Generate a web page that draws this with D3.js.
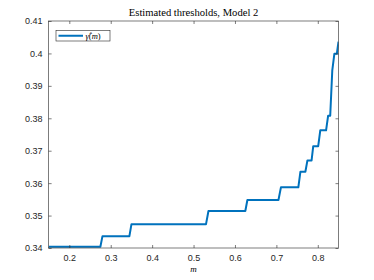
<!DOCTYPE html>
<html>
<head>
<meta charset="utf-8">
<script src="https://cdn.jsdelivr.net/npm/d3@7"></script>
<style>
  body { margin: 0; background: #fff; }
  svg { display: block; }
  .tick text { font-family: "Liberation Sans", Arial, sans-serif; font-size: 9px; fill: #262626; }
</style>
</head>
<body>
<div id="chart"></div>
<script>
// values
var mVals = [0.15, 0.275, 0.280, 0.345, 0.350, 0.530, 0.536, 0.625, 0.630, 0.705, 0.711,
             0.753, 0.758, 0.770, 0.775, 0.785, 0.789, 0.801, 0.806, 0.820, 0.825, 0.830,
             0.835, 0.840, 0.846, 0.850];
var gammaVals = [0.3404, 0.3404, 0.3436, 0.3436, 0.3473, 0.3473, 0.3514, 0.3514, 0.3548, 0.3548, 0.3587,
                 0.3587, 0.3635, 0.3635, 0.3670, 0.3670, 0.3714, 0.3714, 0.3763, 0.3763, 0.3808, 0.3808,
                 0.3948, 0.3999, 0.3999, 0.4036];
var xTicks = [0.2, 0.3, 0.4, 0.5, 0.6, 0.7, 0.8];
var yTicks = [0.34, 0.35, 0.36, 0.37, 0.38, 0.39, 0.40, 0.41];
var xDomain = [0.15, 0.85];
var yDomain = [0.34, 0.41];

var width = 374, height = 280;
var margin = {left: 48.6, right: 35.5, top: 21, bottom: 32};
var axisColor = "#262626";
var lineColor = "#0072BD";

var data = mVals.map(function(m, i) { return {m: m, g: gammaVals[i]}; });

var svg = d3.select("#chart").append("svg")
  .attr("width", width)
  .attr("height", height);

var x = d3.scaleLinear().domain(xDomain).range([margin.left, width - margin.right]);
var y = d3.scaleLinear().domain(yDomain).range([height - margin.bottom, margin.top]);

var tickLen = 3;

// clip for the line
svg.append("clipPath").attr("id", "clip")
  .append("rect")
  .attr("x", x.range()[0]).attr("y", y.range()[1])
  .attr("width", x.range()[1] - x.range()[0])
  .attr("height", y.range()[0] - y.range()[1]);

var line = d3.line()
  .x(function(d) { return x(d.m); })
  .y(function(d) { return y(d.g); });

svg.append("path")
  .datum(data)
  .attr("clip-path", "url(#clip)")
  .attr("fill", "none")
  .attr("stroke", lineColor)
  .attr("stroke-width", 2)
  .attr("stroke-linejoin", "round")
  .attr("d", line);

// axes, ticks inward, box on
function styleAxis(g) {
  g.select(".domain").remove();
  g.selectAll(".tick line").attr("stroke", axisColor).attr("stroke-width", 0.6);
}

svg.append("g")
  .attr("transform", "translate(0," + y.range()[0] + ")")
  .call(d3.axisBottom(x).tickValues(xTicks).tickSizeInner(-tickLen).tickPadding(7)
        .tickFormat(d3.format("")))
  .call(styleAxis);

svg.append("g")
  .attr("transform", "translate(0," + y.range()[1] + ")")
  .call(d3.axisTop(x).tickValues(xTicks).tickSizeInner(-tickLen).tickFormat(""))
  .call(styleAxis);

svg.append("g")
  .attr("transform", "translate(" + x.range()[0] + ",0)")
  .call(d3.axisLeft(y).tickValues(yTicks).tickSizeInner(-tickLen).tickPadding(6)
        .tickFormat(function(d) { return d3.format("")(+d.toFixed(2)); }))
  .call(styleAxis);

svg.append("g")
  .attr("transform", "translate(" + x.range()[1] + ",0)")
  .call(d3.axisRight(y).tickValues(yTicks).tickSizeInner(-tickLen).tickFormat(""))
  .call(styleAxis);

svg.append("rect")
  .attr("x", x.range()[0]).attr("y", y.range()[1])
  .attr("width", x.range()[1] - x.range()[0])
  .attr("height", y.range()[0] - y.range()[1])
  .attr("fill", "none")
  .attr("stroke", axisColor)
  .attr("stroke-width", 0.6);

// title and x label
svg.append("text")
  .attr("x", (x.range()[0] + x.range()[1]) / 2)
  .attr("y", 15.5)
  .attr("text-anchor", "middle")
  .style("font-family", "'Liberation Serif', 'DejaVu Serif', serif")
  .style("font-size", "10.6px")
  .attr("fill", "#000")
  .text("Estimated thresholds, Model 2");

svg.append("text")
  .attr("x", (x.range()[0] + x.range()[1]) / 2)
  .attr("y", 272)
  .attr("text-anchor", "middle")
  .style("font-family", "'Liberation Serif', 'DejaVu Serif', serif")
  .style("font-style", "italic")
  .style("font-size", "9px")
  .attr("fill", "#000")
  .text("m");

// legend
var lg = svg.append("g").attr("transform", "translate(56,30.5)");
lg.append("rect")
  .attr("width", 54).attr("height", 10.5)
  .attr("fill", "#fff")
  .attr("stroke", axisColor)
  .attr("stroke-width", 0.6);
lg.append("line")
  .attr("x1", 2.5).attr("x2", 27)
  .attr("y1", 5.25).attr("y2", 5.25)
  .attr("stroke", lineColor)
  .attr("stroke-width", 2);
var lt = lg.append("text")
  .attr("x", 29.5).attr("y", 8.3)
  .style("font-family", "'Liberation Serif', 'DejaVu Serif', serif")
  .style("font-size", "8.5px")
  .attr("fill", "#000");
lt.append("tspan").style("font-style", "italic").text("\u03B3\u0302");
lt.append("tspan").text("(");
lt.append("tspan").style("font-style", "italic").text("m");
lt.append("tspan").text(")");
</script>
</body>
</html>
